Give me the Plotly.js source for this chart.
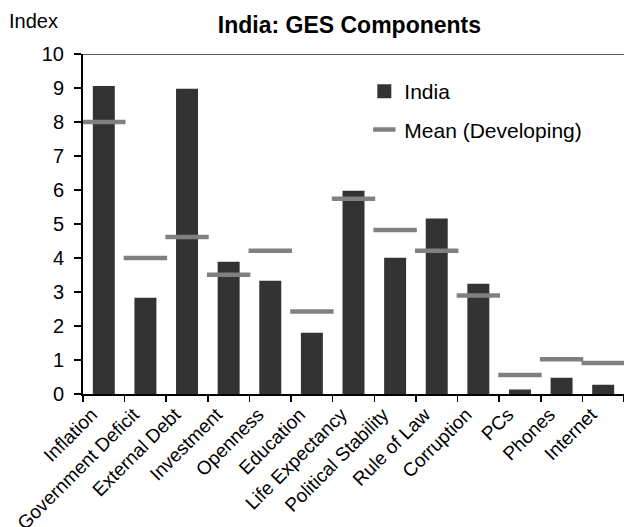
<!DOCTYPE html>
<html>
<head>
<meta charset="utf-8">
<script src="https://cdn.plot.ly/plotly-3.0.1.min.js"></script>
<style>
  html, body { margin: 0; padding: 0; background: #ffffff; }
  #chart { width: 624px; height: 527px; }
</style>
</head>
<body>
<div id="chart"></div>
<script>
const categories = ["Inflation", "Government Deficit", "External Debt", "Investment", "Openness", "Education", "Life Expectancy", "Political Stability", "Rule of Law", "Corruption", "PCs", "Phones", "Internet"];
const indiaValues = [9.03, 2.80, 8.95, 3.86, 3.30, 1.77, 5.95, 3.98, 5.13, 3.21, 0.10, 0.45, 0.24];
const meanDeveloping = [8.0, 4.0, 4.62, 3.51, 4.21, 2.43, 5.74, 4.82, 4.21, 2.90, 0.56, 1.02, 0.91];
const yTicks = [0, 1, 2, 3, 4, 5, 6, 7, 8, 9, 10];

const FONT = "Liberation Sans, Arial, Helvetica, sans-serif";

const traces = [
  {
    type: "bar",
    name: "India",
    x: categories,
    y: indiaValues,
    marker: { color: "#333333", line: { color: "#333333", width: 2 } },
    legendgroup: "a",
    hoverinfo: "skip"
  },
  {
    type: "scatter",
    mode: "markers",
    name: "Mean (Developing)",
    x: categories,
    y: meanDeveloping,
    marker: {
      symbol: "line-ew",
      size: 31,
      color: "#808080",
      line: { color: "#808080", width: 4.5 }
    },
    legendgroup: "b",
    hoverinfo: "skip"
  }
];

const layout = {
  width: 624,
  height: 527,
  paper_bgcolor: "#ffffff",
  plot_bgcolor: "#ffffff",
  font: { family: FONT, color: "#000000", size: 20 },
  margin: { l: 83, r: 0, t: 54, b: 133, pad: 0, autoexpand: false },
  title: {
    text: "<b>India: GES Components</b>",
    font: { family: FONT, size: 23, color: "#000000" },
    x: 0.56,
    xanchor: "center",
    xref: "container",
    y: 0.952,
    yanchor: "middle"
  },
  bargap: 0.52,
  showlegend: true,
  legend: {
    x: 0.52,
    y: 0.95,
    xanchor: "left",
    yanchor: "top",
    bgcolor: "rgba(0,0,0,0)",
    font: { family: FONT, size: 21, color: "#000000" },
    tracegroupgap: 8,
    itemclick: false
  },
  xaxis: {
    type: "category",
    range: [-0.5, 12.5],
    automargin: false,
    showgrid: false,
    zeroline: false,
    showline: true,
    linecolor: "#000000",
    linewidth: 2,
    ticks: "outside",
    tickson: "boundaries",
    ticklen: 6,
    tickwidth: 1.5,
    tickcolor: "#000000",
    tickangle: -45,
    ticklabelshift: -12,
    tickfont: { family: FONT, size: 19, color: "#000000" }
  },
  yaxis: {
    automargin: false,
    range: [0, 10],
    tickvals: yTicks,
    ticktext: yTicks.map(String),
    showgrid: false,
    zeroline: false,
    showline: true,
    linecolor: "#000000",
    linewidth: 2,
    ticks: "outside",
    ticklen: 7,
    tickwidth: 1.5,
    tickcolor: "#000000",
    ticklabelstandoff: 6,
    tickfont: { family: FONT, size: 20, color: "#000000" }
  },
  shapes: [
    {
      type: "line",
      xref: "paper",
      yref: "y",
      x0: 0, x1: 1,
      y0: 10, y1: 10,
      line: { color: "#222222", width: 1.5 }
    }
  ],
  annotations: [
    {
      text: "Index",
      xref: "paper",
      yref: "paper",
      x: -0.14,
      y: 1,
      xanchor: "left",
      yanchor: "bottom",
      yshift: 20,
      showarrow: false,
      font: { family: FONT, size: 20, color: "#000000" }
    }
  ]
};

Plotly.newPlot("chart", traces, layout, { displayModeBar: false, staticPlot: true });
</script>
</body>
</html>
